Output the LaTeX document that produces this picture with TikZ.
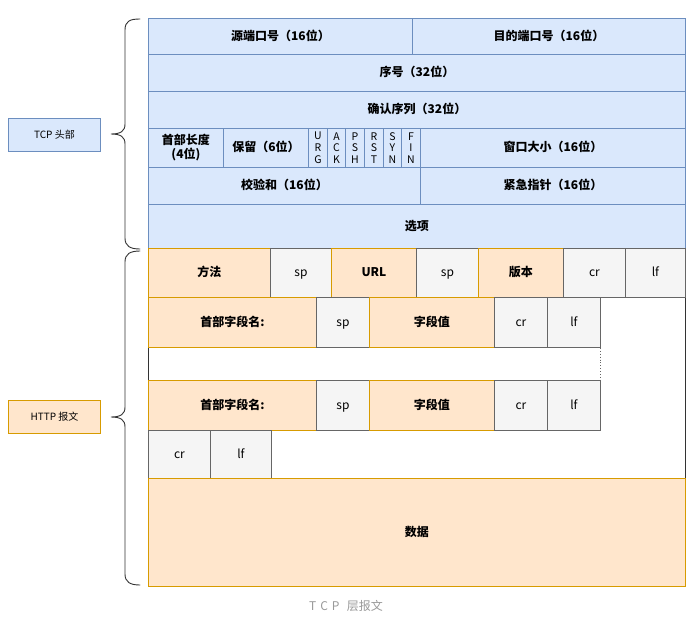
\documentclass[tikz,border=0pt]{standalone}
\usepackage{fontspec}
\setmainfont{Noto Sans CJK SC}
\usetikzlibrary{calc}
\definecolor{bfill}{HTML}{DAE8FC}
\definecolor{bline}{HTML}{6C8EBF}
\definecolor{ofill}{HTML}{FFE6CC}
\definecolor{oline}{HTML}{D79B00}
\definecolor{gfill}{HTML}{F5F5F5}
\definecolor{gline}{HTML}{666666}
\definecolor{dark}{HTML}{333333}
\definecolor{capgray}{HTML}{999999}
\newcommand\mkcell[7]{\node[#1, minimum width={#5pt-#3pt}, minimum height={#6pt-#4pt}, anchor=north west] (#2) at (#3,#4) {#7};}
\begin{document}
\begin{tikzpicture}[x=1pt,y=-1pt,
  cellbase/.style={draw, line width=0.9pt, inner sep=0pt, font=\fontsize{12}{14}\selectfont\bfseries, text=black, align=center, text height=10pt, text depth=2pt},
  bluecell/.style={cellbase, fill=bfill, draw=bline},
  orangecell/.style={cellbase, fill=ofill, draw=oline},
  graycell/.style={cellbase, fill=gfill, draw=gline, font=\fontsize{12}{14}\selectfont},
  multicell/.style={bluecell, text height=, text depth=},
  flagcell/.style={multicell, font=\fontsize{10.5}{11.8}\selectfont},
  sidelabel/.style={draw, line width=0.9pt, inner sep=0pt, font=\fontsize{10}{12}\selectfont, text=black, text height=8pt, text depth=1.5pt},
  bracestroke/.style={draw=dark, line width=0.9pt, line cap=round}]
\useasboundingbox (0,0) rectangle (694,622);
% HTTP background outline
\mkcell{draw=dark, fill=white, line width=0.9pt}{httpbg}{148}{248}{685}{478}{}
% TCP header
\mkcell{bluecell}{srcport}{148}{18}{412}{54}{源端口号（16位）}
\mkcell{bluecell}{dstport}{412}{18}{685}{54}{目的端口号（16位）}
\mkcell{bluecell}{seq}{148}{54}{685}{91}{序号（32位）}
\mkcell{bluecell}{ack}{148}{91}{685}{128}{确认序列（32位）}
\mkcell{multicell}{hlen}{148}{128}{223}{167}{首部长度\\(4位)}
\mkcell{bluecell}{resv}{223}{128}{308}{167}{保留（6位）}
\mkcell{flagcell}{furg}{308}{128}{327}{167}{U\\R\\G}
\mkcell{flagcell}{fack}{327}{128}{345}{167}{A\\C\\K}
\mkcell{flagcell}{fpsh}{345}{128}{364}{167}{P\\S\\H}
\mkcell{flagcell}{frst}{364}{128}{383}{167}{R\\S\\T}
\mkcell{flagcell}{fsyn}{383}{128}{401}{167}{S\\Y\\N}
\mkcell{flagcell}{ffin}{401}{128}{420}{167}{F\\I\\N}
\mkcell{bluecell}{win}{420}{128}{685}{167}{窗口大小（16位）}
\mkcell{bluecell}{csum}{148}{167}{420}{204}{校验和（16位）}
\mkcell{bluecell}{urg}{420}{167}{685}{204}{紧急指针（16位）}
\mkcell{bluecell}{opts}{148}{204}{685}{248}{选项}
% HTTP request line
\mkcell{orangecell}{method}{148}{248}{270}{297}{方法}
\mkcell{graycell}{spa}{270}{248}{331}{297}{sp}
\mkcell{orangecell}{url}{331}{248}{416}{297}{URL}
\mkcell{graycell}{spb}{416}{248}{478}{297}{sp}
\mkcell{orangecell}{ver}{478}{248}{563}{297}{版本}
\mkcell{graycell}{cra}{563}{248}{625}{297}{cr}
\mkcell{graycell}{lfa}{625}{248}{685}{297}{lf}
% header line 1
\mkcell{orangecell}{hname}{148}{297}{316}{347}{首部字段名:}
\mkcell{graycell}{spc}{316}{297}{369}{347}{sp}
\mkcell{orangecell}{hval}{369}{297}{494}{347}{字段值}
\mkcell{graycell}{crb}{494}{297}{547}{347}{cr}
\mkcell{graycell}{lfb}{547}{297}{600}{347}{lf}
% header line 2
\mkcell{orangecell}{hnameb}{148}{380}{316}{430}{首部字段名:}
\mkcell{graycell}{spd}{316}{380}{369}{430}{sp}
\mkcell{orangecell}{hvalb}{369}{380}{494}{430}{字段值}
\mkcell{graycell}{crc}{494}{380}{547}{430}{cr}
\mkcell{graycell}{lfc}{547}{380}{600}{430}{lf}
\draw[gline, line width=0.9pt, dotted] (lfb.south east) -- (lfc.north east);
% empty line
\mkcell{graycell}{crd}{148}{430}{210}{478}{cr}
\mkcell{graycell}{lfd}{210}{430}{271}{478}{lf}
% body
\mkcell{orangecell}{body}{148}{478}{685}{586}{数据}
% side labels
\mkcell{sidelabel, fill=bfill, draw=bline}{tcplabel}{8}{118}{100}{151}{TCP 头部}
\mkcell{sidelabel, fill=ofill, draw=oline}{httplabel}{8}{400}{100}{433}{HTTP 报文}
% braces
\draw[bracestroke] (140,19) .. controls (130,19) and (125,21) .. (125,30) -- (125,124)
  .. controls (125,131) and (121,134) .. (111,134)
  .. controls (121,134) and (125,137) .. (125,144) -- (125,238)
  .. controls (125,246) and (130,249) .. (140,249);
\draw[bracestroke] (140,251) .. controls (130,251) and (125,254) .. (125,262) -- (125,407)
  .. controls (125,414) and (121,417) .. (111,417)
  .. controls (121,417) and (125,420) .. (125,427) -- (125,574)
  .. controls (125,582) and (130,585) .. (140,585);
% caption
\node[text=capgray, font=\fontsize{12}{14}\selectfont, inner sep=0pt] (caption) at (346,606) {T\,\,C\,\,P\ \ \,层报文};
\end{tikzpicture}
\end{document}
